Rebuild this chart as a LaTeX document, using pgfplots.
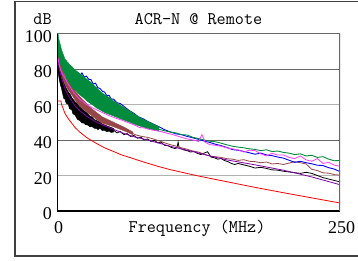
\documentclass[border=0pt]{standalone}
\usepackage{fontspec}
\setmainfont{Liberation Serif}
\usepackage{pgfplots}
\pgfplotsset{compat=1.18}
\definecolor{cgreen}{RGB}{0,140,60}
\definecolor{cblue}{RGB}{0,0,255}
\definecolor{cmag}{RGB}{255,60,255}
\definecolor{cbrown}{RGB}{150,70,70}
\definecolor{cpurple}{RGB}{128,0,170}
\definecolor{cred}{RGB}{255,0,0}
\begin{document}
\begin{tikzpicture}[x=1pt,y=1pt]
\useasboundingbox (0,0) rectangle (358,260);
\draw[black!75, line width=1.2pt] (370,258.3) -- (15,258.3) -- (15,4) -- (370,4);
\begin{axis}[at={(57pt,49pt)}, anchor=south west, scale only axis,
  width=283pt, height=177.5pt,
  xmin=0, xmax=250, ymin=0, ymax=100,
  axis line style={draw=none},
  major tick length=0pt,
  xtick={0,250}, ytick={0,40,80,100},
  extra y ticks={20,60},
  ymajorgrids,
  major grid style={black!60, line width=0.8pt},
  extra tick style={grid=major, major grid style={black!30, line width=1.6pt}},
  /pgf/number format/assume math mode=true,
  tick label style={font=\fontsize{18}{20}\selectfont, inner sep=0pt},
  yticklabel style={anchor=east, xshift=-5pt, yshift=-3pt},
  xticklabel style={anchor=north, yshift=-10.7pt, xshift=1.5pt},
  clip=true]
% black band + line
\addplot[fill=black, draw=black, line width=0.4pt] coordinates {
(1,86) (2,82) (3,79.5) (4,77) (5,75) (6,72.5) (7,71) (8,69.5) (10,67) (12,65.5) (13,64) (16,61.5) (18,60.5) (20,59) (22,57.5) (24,56.5) (27,55) (29,53.5) (31,53) (33,51.5) (35,51) (38,50) (40,49) (42,48.5) (46,47.5) (50,46.5)
(50,44.5) (48,44.2) (46,45) (44,44.6) (42,45.5) (40,45.3) (38,46.5) (36,45.8) (35,46.5) (33,46.6) (31,47.5) (29,47.4) (27,48.5) (25,48.6) (24,49.5) (22,49.6) (20,51) (18,51.6) (16,54) (14,54.8) (13,57) (11,57.6) (10,60) (8,60.8) (7,63) (6,63.4) (5,66) (4,69) (3,71) (2,74) (1,78)};
\addplot[black, line width=0.8pt] coordinates {
(48,45.5) (50,45.5) (53,44) (56,44.8) (59,43) (62,43.6) (65,42) (68,42.6) (71,41) (74,41.6) (77,40) (80,40.6) (83,39.2) (86,39.8) (89,38.4) (92,38.8) (95,37) (98,36.8) (101,35.8) (104,35.2) (106,35.6) (107,38.8) (108,35.2) (110,35) (112,34.4) (115,34) (118,33.2) (121,33.6) (124,32.5) (127,31.8) (130,32.6) (133,33.4) (136,30.4) (139,30) (142,29.2) (145,29.6) (148,28.4) (151,27.8) (154,26.8) (157,26.2) (160,26.8) (165,26) (170,25.2) (175,24.2) (180,24.6) (185,24) (190,23.2) (195,23) (200,22.4) (205,22) (210,21.6) (215,21.2) (220,21.8) (225,21.2) (230,20) (235,18.8) (240,18) (245,17.2) (250,16.4)};
% brown band + line
\addplot[fill=cbrown, draw=cbrown, line width=0.4pt] coordinates {
(1,92) (2,88) (3,85.5) (4,82) (5,80) (7,76) (10,73) (13,70.5) (16,67.5) (20,64.5) (24,62) (27,60) (31,57.5) (35,55.5) (40,53) (45,51.5) (50,50) (55,48.5) (60,47) (67,44.5)
(67,43) (60,45) (55,46.2) (50,47.5) (45,48.5) (40,49.5) (35,51.5) (31,53.5) (27,55.5) (24,57) (20,59) (16,62.5) (13,65.5) (10,68) (7,71.5) (5,74.5) (4,77) (3,79) (2,82) (1,86)};
\addplot[cbrown, line width=0.8pt] coordinates {
(65,44) (67,43.6) (70,42.8) (75,42) (80,41.5) (85,40.6) (90,39.6) (95,38.4) (100,37.4) (105,36.6) (110,35.6) (115,34.8) (120,33.8) (125,33.2) (130,32) (135,31) (140,30.6) (145,30.2) (150,29.5) (155,29.2) (160,28.5) (165,28.9) (170,28) (175,27.8) (180,27.2) (185,27.6) (190,26.5) (195,26.8) (200,26.2) (205,27) (210,27.8) (215,27.2) (220,26.5) (225,23.5) (230,22.8) (235,21.5) (240,21.3) (245,20.5) (250,20.2)};
% purple
\addplot[cpurple, line width=0.8pt] coordinates {
(1,84) (2,80) (4,75) (7,69) (10,65) (15,60) (20,56.5) (27,53) (35,50) (42,48) (50,46) (60,43.5) (67,42) (80,40) (97,37) (100,36.5) (120,33.5) (135,31) (150,28.8) (175,26) (200,23) (225,19.2) (250,14.8)};
% blue
\addplot[cblue, line width=0.9pt] coordinates {
(1,95) (3,90) (5,86) (10,80) (15,77) (20,76) (22,77.8) (24,75.5) (26,76) (28,74.2) (30,74) (32,71.5) (34,72) (36,69.5) (38,69) (40,67.5) (42,67) (44,65) (46,65.2) (48,63) (50,63) (53,61) (56,60.5) (60,58.5) (64,56.5) (68,55) (72,53) (76,52) (80,50.5) (85,49) (90,47.5) (95,45.8) (100,44.6) (105,43.5) (110,43) (115,42) (120,41.2) (125,40.4) (130,39.4) (135,38.6) (140,37.6) (145,36.8) (150,35.8) (155,34.6) (160,34.2) (165,33.6) (170,32.8) (175,32) (180,32.6) (185,31.6) (190,31.2) (195,30.4) (200,29.8) (205,28.6) (210,27.4) (215,28) (220,27.2) (225,26.6) (230,25.8) (235,25.6) (240,24.4) (245,23.6) (250,22.2)};
% green band + line
\addplot[fill=cgreen, draw=cgreen, line width=0.4pt] coordinates {
(1,100) (1.5,97) (2,96) (2.5,94.5) (3,93.5) (4,91) (5,89) (6,87.5) (7,85.5) (8,85) (9,84) (10,83.5) (11,82.5) (13,81.5) (15,80) (17,79) (20,77.5) (22,76.5) (24,75.5) (27,74) (30,72.5) (33,70.5) (35,69.5) (38,67.5) (42,65.5) (46,64) (50,62) (55,60) (60,58) (65,56) (70,54) (75,52) (80,50.5) (85,49) (90,47.5)
(90,45) (85,45.8) (80,46.5) (75,47.5) (70,48.5) (65,49.8) (60,51) (55,52.2) (50,53.5) (46,54.5) (42,55.5) (38,57) (35,58) (31,60) (27,61.7) (24,63.5) (20,65.5) (17,67.5) (15,68.5) (13,70) (10,73) (8,75) (7,77) (5,79.5) (4,81.5) (3,83) (2,86) (1.5,87) (1,88)};
\addplot[cgreen, line width=0.9pt] coordinates {
(88,46.5) (90,46) (95,45.2) (100,44.5) (105,44) (110,43) (115,42.8) (120,41.5) (125,40.8) (130,40) (135,39.3) (140,39) (145,38.2) (150,37.3) (155,36.5) (160,36) (165,35.6) (170,35) (175,34.7) (180,34) (185,34.5) (190,33.5) (195,33.8) (200,33) (205,32.6) (210,31.8) (215,32.2) (220,31) (225,31.4) (230,30.2) (235,30.6) (240,29.2) (245,28.3) (250,28.5)};
% magenta
\addplot[cmag, line width=0.8pt] coordinates {
(1,86) (2,82) (3,80) (5,77) (7,75) (10,71.5) (15,66.5) (20,63) (25,60.5) (30,58.5) (35,57) (40,55.5) (45,54) (50,52.8) (53,52) (56,51.5) (60,50.5) (65,49.3) (70,48) (73,47) (77,46.8) (80,46.2) (85,45.5) (90,45) (95,44.2) (100,43.4) (105,42.5) (110,41.5) (115,40.6) (120,40) (125,39.2) (128,43) (131,38.6) (135,37.4) (140,37) (145,36.5) (150,35.6) (155,35) (160,34.4) (165,33.2) (170,34.3) (175,34) (180,32.2) (185,31) (190,32.5) (195,31.5) (200,31.6) (205,30.2) (210,29.5) (215,31) (220,28.8) (225,28) (230,29.5) (235,26.8) (240,27.4) (245,25.8) (250,25.2)};
% red limit
\addplot[cred, line width=0.8pt] coordinates {
(1,62) (3.5,62) (4,60) (5,58.5) (7,55) (10,52) (16,47) (20,44.5) (27,41) (35,38) (42,35.6) (50,33.5) (57,31.6) (65,30) (77,27.5) (90,25) (100,23.3) (125,19.7) (150,16.5) (175,13.3) (200,10.3) (225,7.4) (250,4.5)};
% frame
\draw[black, line width=1.2pt] (rel axis cs:0,1) -- (rel axis cs:0,0) -- (rel axis cs:1,0);
\draw[black!60, line width=1.2pt] (rel axis cs:0,1) -- (rel axis cs:1,1) -- (rel axis cs:1,0);
\end{axis}
\node[anchor=base, inner sep=0pt, font=\ttfamily\fontsize{17.7}{20}\selectfont] at (198.5,235) {ACR-N @ Remote};
\node[anchor=base, inner sep=0pt, font=\ttfamily\fontsize{17.7}{20}\selectfont] at (42.5,235) {dB};
\node[anchor=base, inner sep=0pt, font=\ttfamily\fontsize{17.7}{20}\selectfont] at (197,27.3) {Frequency (MHz)};
\end{tikzpicture}
\end{document}
